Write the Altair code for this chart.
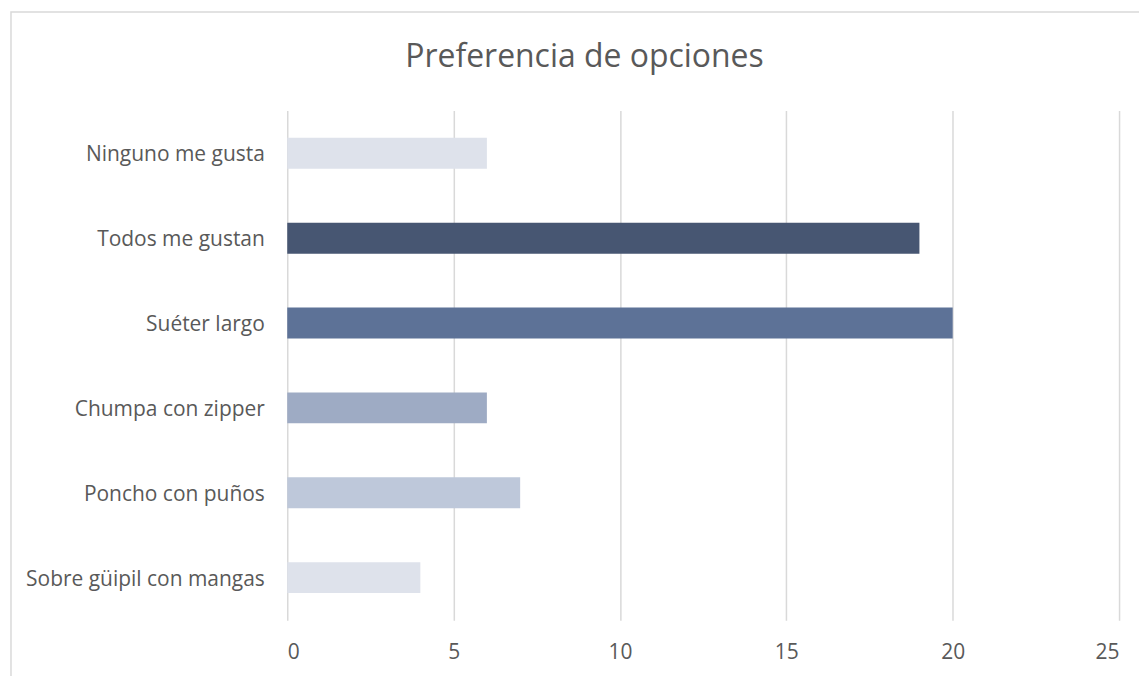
import altair as alt
import pandas as pd

categories = ["Ninguno me gusta", "Todos me gustan", "Suéter largo",
              "Chumpa con zipper", "Poncho con puños", "Sobre güipil con mangas"]
values = [6, 19, 20, 6, 7, 4]
colors = ["#dee2eb", "#475672", "#5d7297", "#9eabc4", "#bec8da", "#dee2eb"]
x_ticks = [0, 5, 10, 15, 20, 25]
title_text = "Preferencia de opciones"

df = pd.DataFrame({"cat": categories, "val": values, "col": colors})

FONT = "Open Sans"
W, H = 834, 511
PL, PT = 280, 102

frame = alt.Chart(pd.DataFrame({"a": [0]})).mark_rect(
    fill="white", fillOpacity=0, stroke="#d9d9d9", strokeWidth=1.5, clip=False
).encode(
    x=alt.value(-277), x2=alt.value(W + 200),
    y=alt.value(-99), y2=alt.value(H + 200)
)

title = alt.Chart(pd.DataFrame({"t": [title_text]})).mark_text(
    font=FONT, fontSize=32, color="#595959", align="center",
    baseline="alphabetic", clip=False
).encode(text="t:N", x=alt.value(298), y=alt.value(-44))

bars = alt.Chart(df).mark_bar().encode(
    y=alt.Y("cat:N", sort=categories,
            scale=alt.Scale(paddingInner=0.635, paddingOuter=0.32),
            axis=alt.Axis(title=None, ticks=False, domain=False, labelFontSize=21,
                          labelColor="#595959", labelFont=FONT, labelPadding=23,
                          labelOffset=2, labelLimit=400, grid=False)),
    x=alt.X("val:Q", scale=alt.Scale(domain=[0, 25], nice=False),
            axis=alt.Axis(title=None, values=x_ticks, ticks=False, domain=False,
                          labelFontSize=21, labelColor="#595959", labelFont=FONT,
                          labelPadding=21, grid=True, gridColor="#d9d9d9",
                          gridWidth=1.5)),
    color=alt.Color("col:N", scale=None, legend=None),
)

chart = alt.layer(frame, bars, title).properties(
    width=W, height=H,
    autosize=alt.AutoSizeParams(type="none"),
    padding={"left": PL, "top": PT, "right": 20, "bottom": 60},
).configure_view(stroke=None)

chart.save("out.html", embed_options={"renderer": "svg", "actions": False})
